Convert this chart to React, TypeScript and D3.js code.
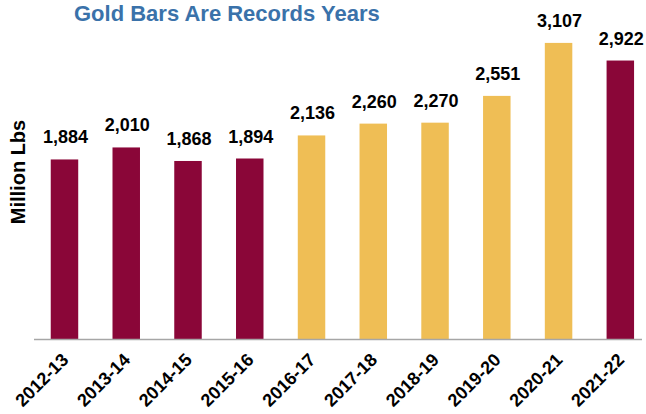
import React from "react";
import * as d3 from "d3";

const categories = ["2012-13", "2013-14", "2014-15", "2015-16", "2016-17", "2017-18", "2018-19", "2019-20", "2020-21", "2021-22"];
const values = [1884, 2010, 1868, 1894, 2136, 2260, 2270, 2551, 3107, 2922];
const highlight = [true, true, true, true, false, false, false, false, false, true];

const W = 646;
const H = 414;
const CRIMSON = "#8a0638";
const GOLD = "#efbe55";
const FONT = "'Liberation Sans', Arial, Helvetica, sans-serif";

export default function App() {
  const x = d3.scaleBand<string>().domain(categories).range([33.6, 651.2]).paddingInner(0.555).paddingOuter(0.2775);
  const y = d3.scaleLinear().domain([0, 3500]).range([339, 5.45]);
  const fmt = d3.format(",");
  return (
    <svg width={W} height={H} style={{ position: "absolute", left: 0, top: 0, background: "#fff" }} fontFamily={FONT}>
      <text x={74} y={21} fontSize={22} fontWeight="bold" fill="#3a72aa">Gold Bars Are Records Years</text>
      <text transform={`translate(24.5,172) rotate(-90)`} textAnchor="middle" fontSize={20} fontWeight="bold" fill="#000">Million Lbs</text>
      {categories.map((c, i) => {
        const bx = x(c)!;
        const cx = bx + x.bandwidth() / 2;
        const v = values[i];
        return (
          <g key={c}>
            <rect x={bx} y={y(v)} width={x.bandwidth()} height={y(0) - y(v)} fill={highlight[i] ? CRIMSON : GOLD} />
            <text x={cx + 1} y={y(v) - 16} textAnchor="middle" fontSize={18} fontWeight="bold" fill="#000">{fmt(v)}</text>
            <text transform={`translate(${cx + 5},361) rotate(-45)`} textAnchor="end" fontSize={18} fontWeight="bold" fill="#000">{c}</text>
          </g>
        );
      })}
      <line x1={34} x2={642} y1={339.5} y2={339.5} stroke="#a6a6a6" strokeWidth={1.6} />
    </svg>
  );
}
